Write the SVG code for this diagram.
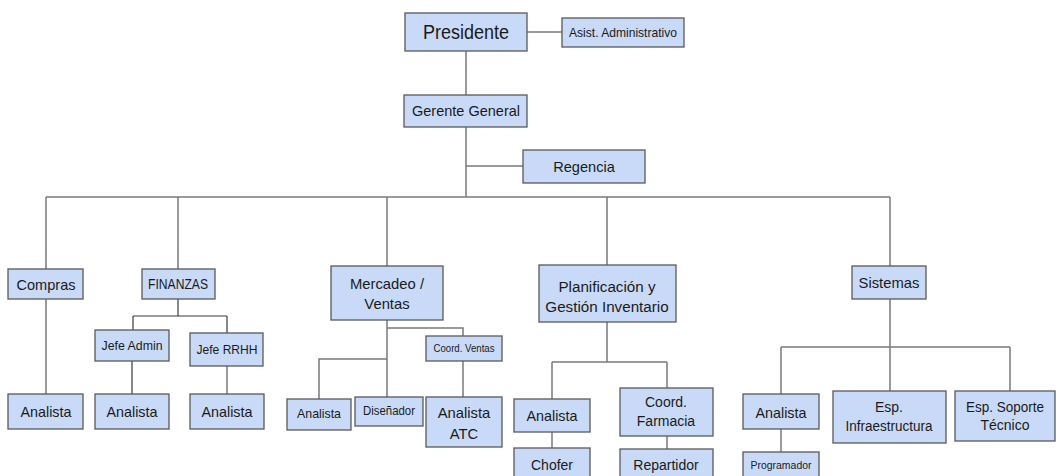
<svg xmlns="http://www.w3.org/2000/svg" width="1056" height="476" viewBox="0 0 1056 476">
<style>
.b{fill:#c9daf8;stroke:#595959;stroke-width:1.3}
.t{font-family:"Liberation Sans",Arial,sans-serif;fill:#1a1a1a;text-anchor:middle}
.c{fill:none;stroke:#7a7a7a;stroke-width:1.5}
.d{fill:none;stroke:#3a3a3a;stroke-width:1.2}
</style>
<rect width="1056" height="476" fill="#ffffff"/>
<g id="connectors">
<path class="c" d="M527 32H562"/>
<path class="c" d="M466 51V95M466 127V197M466 166H523"/>
<path class="c" d="M46 197H890M46 197V269M178 197V269M387 197V266M607 197V265M890 197V266"/>
<path class="c" d="M46 299V394"/>
<path class="d" d="M178 299V316M133 316H227M133 316V330M227 316V333"/>
<path class="d" d="M132 361V394"/>
<path class="c" d="M227 366V394"/>
<path class="c" d="M387 320V328H463V336M387 328V397M387 359H319V399"/>
<path class="c" d="M463 361V397"/>
<path class="c" d="M607 322V362M552 362H667M552 362V399M667 362V388"/>
<path class="c" d="M552 432V448M667 436V449"/>
<path class="c" d="M890 299V347M781 347H1010M781 347V394M890 347V391M1010 347V391"/>
<path class="c" d="M781 429V452"/>
</g>
<g id="presidente"><rect class="b" x="405" y="13" width="122" height="38"/><text class="t" x="466" y="39" font-size="19.5" textLength="86" lengthAdjust="spacingAndGlyphs">Presidente</text></g>
<g id="asistente"><rect class="b" x="562" y="18" width="122" height="29"/><text class="t" x="623" y="37" font-size="13.5" textLength="108" lengthAdjust="spacingAndGlyphs">Asist. Administrativo</text></g>
<g id="gerente"><rect class="b" x="404" y="95" width="123" height="32"/><text class="t" x="466" y="116" font-size="15" textLength="108" lengthAdjust="spacingAndGlyphs">Gerente General</text></g>
<g id="regencia"><rect class="b" x="523" y="150" width="122" height="33"/><text class="t" x="584" y="172" font-size="14.6">Regencia</text></g>
<g id="compras"><rect class="b" x="8" y="269" width="75" height="30"/><text class="t" x="46" y="290" font-size="14.8" textLength="59" lengthAdjust="spacingAndGlyphs">Compras</text></g>
<g id="finanzas"><rect class="b" x="142" y="269" width="73" height="30"/><text class="t" x="178" y="289" font-size="14" textLength="60" lengthAdjust="spacingAndGlyphs">FINANZAS</text></g>
<g id="jefe-admin"><rect class="b" x="95" y="330" width="74" height="31"/><text class="t" x="132" y="350" font-size="13.5" textLength="61" lengthAdjust="spacingAndGlyphs">Jefe Admin</text></g>
<g id="jefe-rrhh"><rect class="b" x="190" y="333" width="73" height="33"/><text class="t" x="227" y="354" font-size="13.5" textLength="61" lengthAdjust="spacingAndGlyphs">Jefe RRHH</text></g>
<g id="analista-compras"><rect class="b" x="8" y="394" width="75" height="35"/><text class="t" x="46" y="417" font-size="15" textLength="51" lengthAdjust="spacingAndGlyphs">Analista</text></g>
<g id="analista-admin"><rect class="b" x="95" y="394" width="74" height="35"/><text class="t" x="132" y="417" font-size="15" textLength="51" lengthAdjust="spacingAndGlyphs">Analista</text></g>
<g id="analista-rrhh"><rect class="b" x="190" y="394" width="74" height="35"/><text class="t" x="227" y="417" font-size="15" textLength="51" lengthAdjust="spacingAndGlyphs">Analista</text></g>
<g id="mercadeo"><rect class="b" x="331" y="266" width="112" height="54"/><text class="t" x="387" y="289" font-size="14.8">Mercadeo /</text><text class="t" x="387" y="309" font-size="14.8">Ventas</text></g>
<g id="coord-ventas"><rect class="b" x="426" y="336" width="76" height="25"/><text class="t" x="464" y="352" font-size="11" textLength="61" lengthAdjust="spacingAndGlyphs">Coord. Ventas</text></g>
<g id="analista-mercadeo"><rect class="b" x="287" y="399" width="64" height="31"/><text class="t" x="319" y="418" font-size="13" textLength="44" lengthAdjust="spacingAndGlyphs">Analista</text></g>
<g id="disenador"><rect class="b" x="355" y="397" width="68" height="29"/><text class="t" x="389" y="415" font-size="12" textLength="52" lengthAdjust="spacingAndGlyphs">Diseñador</text></g>
<g id="analista-atc"><rect class="b" x="426" y="397" width="76" height="50"/><text class="t" x="464" y="418" font-size="14.8">Analista</text><text class="t" x="464" y="439" font-size="14.8">ATC</text></g>
<g id="planificacion"><rect class="b" x="539" y="265" width="137" height="57"/><text class="t" x="607" y="292" font-size="15.2">Planificación y</text><text class="t" x="607" y="312" font-size="15.2">Gestión Inventario</text></g>
<g id="analista-plan"><rect class="b" x="514" y="399" width="76" height="33"/><text class="t" x="552" y="421" font-size="14.5" textLength="51" lengthAdjust="spacingAndGlyphs">Analista</text></g>
<g id="coord-farmacia"><rect class="b" x="620" y="388" width="93" height="48"/><text class="t" x="666" y="407" font-size="14">Coord.</text><text class="t" x="666" y="426" font-size="14">Farmacia</text></g>
<g id="chofer"><rect class="b" x="514" y="448" width="76" height="34"/><text class="t" x="552" y="470" font-size="14">Chofer</text></g>
<g id="repartidor"><rect class="b" x="620" y="449" width="93" height="33"/><text class="t" x="666" y="470" font-size="14">Repartidor</text></g>
<g id="sistemas"><rect class="b" x="852" y="266" width="74" height="33"/><text class="t" x="889" y="288" font-size="14.8">Sistemas</text></g>
<g id="analista-sistemas"><rect class="b" x="743" y="394" width="76" height="35"/><text class="t" x="781" y="418" font-size="14.5" textLength="51" lengthAdjust="spacingAndGlyphs">Analista</text></g>
<g id="esp-infraestructura"><rect class="b" x="833" y="391" width="113" height="52"/><text class="t" x="889" y="412" font-size="14">Esp.</text><text class="t" x="889" y="431" font-size="14" textLength="87" lengthAdjust="spacingAndGlyphs">Infraestructura</text></g>
<g id="esp-soporte"><rect class="b" x="955" y="391" width="100" height="50"/><text class="t" x="1005" y="412" font-size="14" textLength="78" lengthAdjust="spacingAndGlyphs">Esp. Soporte</text><text class="t" x="1005" y="430" font-size="14">Técnico</text></g>
<g id="programador"><rect class="b" x="743" y="452" width="76" height="30"/><text class="t" x="781" y="469" font-size="11.5" textLength="61" lengthAdjust="spacingAndGlyphs">Programador</text></g>
</svg>
